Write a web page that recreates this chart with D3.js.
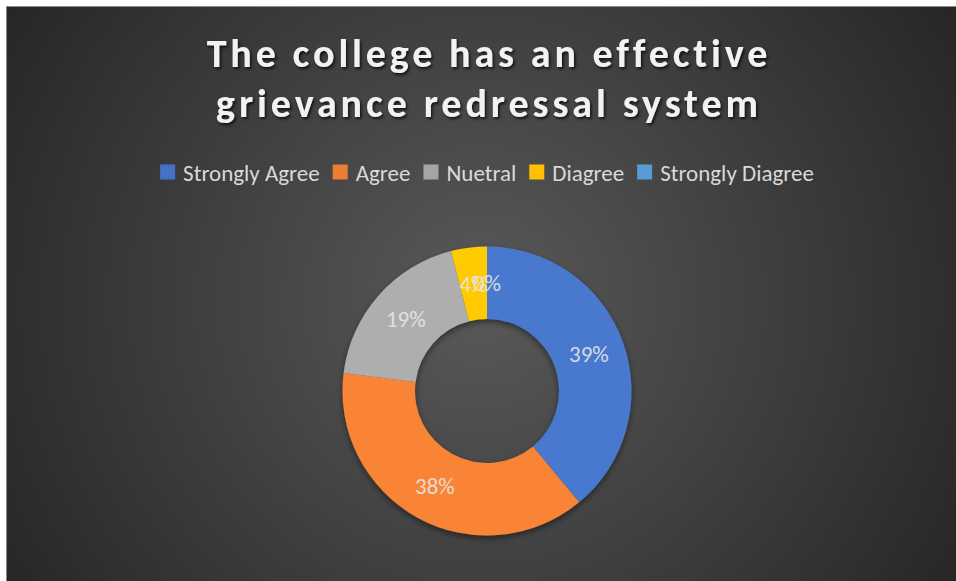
<!DOCTYPE html>
<html>
<head>
<meta charset="utf-8">
<script src="https://cdn.jsdelivr.net/npm/d3@7"></script>
<style>
  html, body { margin: 0; padding: 0; background: #ffffff; }
  svg { display: block; }
</style>
</head>
<body>
<svg id="chart" width="956" height="581"></svg>
<script>
const titleLines = ["The college has an effective", "grievance redressal system"];
const categories = ["Strongly Agree", "Agree", "Nuetral", "Diagree", "Strongly Diagree"];
const values = [39, 38, 19, 4, 0];
const labels = ["39%", "38%", "19%", "4%", "0%"];
const colors = ["#4472C4", "#ED7D31", "#A5A5A5", "#FFC000", "#5B9BD5"];

const W = 956, H = 581;
const svg = d3.select("#chart");
const defs = svg.append("defs");
const font = "Carlito, Calibri, Lato, 'Open Sans', sans-serif";

// background
const bg = defs.append("radialGradient").attr("id", "bg")
  .attr("gradientUnits", "userSpaceOnUse")
  .attr("cx", 480).attr("cy", 300).attr("r", 560);
bg.append("stop").attr("offset", "0%").attr("stop-color", "#595959");
bg.append("stop").attr("offset", "100%").attr("stop-color", "#262626");
svg.append("rect").attr("x", 6).attr("y", 6).attr("width", W - 6).attr("height", H - 6)
  .attr("fill", "url(#bg)");
svg.append("line").attr("x1", 6).attr("x2", W).attr("y1", 6.5).attr("y2", 6.5)
  .attr("stroke", "#8a8a8a").attr("stroke-width", 1);
svg.append("line").attr("x1", 6.5).attr("x2", 6.5).attr("y1", 6).attr("y2", H)
  .attr("stroke", "#8a8a8a").attr("stroke-width", 1);

// shadows
const sh = defs.append("filter").attr("id", "tshadow").attr("x", "-10%").attr("y", "-20%")
  .attr("width", "120%").attr("height", "150%");
sh.append("feDropShadow").attr("dx", 1.5).attr("dy", 2).attr("stdDeviation", 1.5)
  .attr("flood-color", "#000").attr("flood-opacity", 0.75);
const dsh = defs.append("filter").attr("id", "dshadow").attr("x", "-20%").attr("y", "-20%")
  .attr("width", "140%").attr("height", "140%");
dsh.append("feDropShadow").attr("dx", 0).attr("dy", 3).attr("stdDeviation", 3)
  .attr("flood-color", "#000").attr("flood-opacity", 0.45);

const cx = 487;

// title: fit each line to the reference line width via letter-spacing
const titleWidths = [559, 542];
const title = svg.append("g").attr("filter", "url(#tshadow)");
titleLines.forEach((t, i) => {
  const txt = title.append("text").attr("text-anchor", "middle")
    .attr("font-family", font).attr("font-weight", "bold").attr("font-size", 40)
    .attr("fill", "#f2f2f2")
    .attr("x", cx).attr("y", 67 + i * 50).text(t);
  const w = txt.node().getComputedTextLength();
  const ls = (titleWidths[i] - w) / (t.length - 1);
  txt.attr("letter-spacing", ls).attr("x", cx + ls / 2);
});

// legend
const legend = svg.append("g");
let lx = 0;
categories.forEach((c, i) => {
  const g = legend.append("g");
  g.append("rect").attr("x", 0).attr("y", -7.5).attr("width", 15).attr("height", 15)
    .attr("fill", colors[i]);
  const t = g.append("text").attr("x", 23).attr("y", 1).attr("dy", "0.35em")
    .attr("font-family", font).attr("font-size", 23).attr("fill", "#d9d9d9").text(c);
  const w = t.node().getComputedTextLength();
  g.attr("transform", `translate(${lx},172)`);
  lx += 23 + w + 13;
});
const totalW = lx - 13;
legend.attr("transform", `translate(${cx - totalW / 2},0)`);

// donut
const cy = 391, rOuter = 144.5, rInner = 72;
const pie = d3.pie().sort(null).value(d => d.v);
const data = pie(values.map((v, i) => ({ v, i })));
const arc = d3.arc().innerRadius(rInner).outerRadius(rOuter);
const labelArc = d3.arc().innerRadius((rInner + rOuter) / 2).outerRadius((rInner + rOuter) / 2);

colors.forEach((c, i) => {
  const g = defs.append("linearGradient").attr("id", "g" + i)
    .attr("gradientUnits", "userSpaceOnUse")
    .attr("x1", 0).attr("y1", cy - rOuter).attr("x2", 0).attr("y2", cy + rOuter);
  g.append("stop").attr("offset", "0%").attr("stop-color", d3.color(c).brighter(0.15));
  g.append("stop").attr("offset", "100%").attr("stop-color", d3.color(c).darker(0.12));
});

const donut = svg.append("g").attr("transform", `translate(${cx},${cy})`);
donut.append("g").attr("filter", "url(#dshadow)")
  .selectAll("path").data(data).join("path")
  .attr("d", arc)
  .attr("fill", d => `url(#g${d.data.i})`);

donut.selectAll("text.lbl").data(data).join("text").attr("class", "lbl")
  .attr("transform", d => `translate(${labelArc.centroid(d)})`)
  .attr("text-anchor", "middle").attr("dy", "0.35em")
  .attr("font-family", font).attr("font-size", 23)
  .attr("fill", "#e6e6e6").attr("fill-opacity", 0.9)
  .text(d => labels[d.data.i]);
</script>
</body>
</html>
